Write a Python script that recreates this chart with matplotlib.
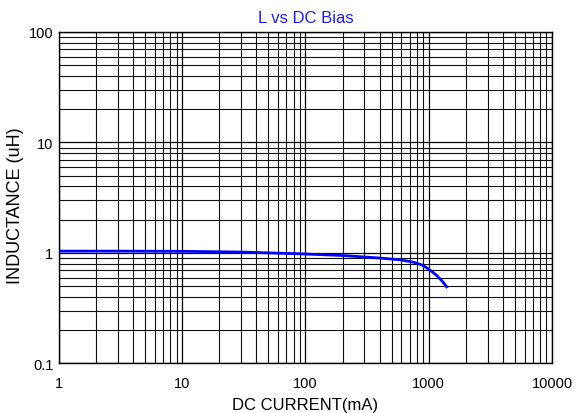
import matplotlib
matplotlib.use("Agg")
import matplotlib.pyplot as plt
from matplotlib.ticker import LogLocator, NullFormatter

plt.rcParams['font.family'] = ['Liberation Sans', 'DejaVu Sans']

current_ma = [1, 3, 10, 30, 90, 200, 400, 585, 750, 880, 962, 1060, 1159, 1280, 1400]
inductance_uh = [1.04, 1.04, 1.035, 1.02, 0.983, 0.949, 0.90, 0.868, 0.826, 0.78, 0.735, 0.68, 0.626, 0.56, 0.494]

x_ticks = [1, 10, 100, 1000, 10000]
x_labels = ["1", "10", "100", "1000", "10000"]
y_ticks = [0.1, 1, 10, 100]
y_labels = ["0.1", "1", "10", "100"]

fig = plt.figure(figsize=(5.76, 4.14), dpi=100)
ax = fig.add_axes([0.1024, 0.1196, 0.8559, 0.8007])
ax.set_xscale('log')
ax.set_yscale('log')
ax.set_xlim(1, 10000)
ax.set_ylim(0.1, 100)

ax.set_xticks(x_ticks)
ax.set_xticklabels(x_labels)
ax.set_yticks(y_ticks)
ax.set_yticklabels(y_labels)
ax.xaxis.set_minor_locator(LogLocator(base=10, subs=range(2, 10), numticks=20))
ax.yaxis.set_minor_locator(LogLocator(base=10, subs=range(2, 10), numticks=20))
ax.xaxis.set_minor_formatter(NullFormatter())
ax.yaxis.set_minor_formatter(NullFormatter())
ax.tick_params(which='both', length=0, labelsize=10.5)
ax.tick_params(axis='x', pad=9)
ax.tick_params(axis='y', pad=4)

ax.grid(True, which='major', color='black', linewidth=0.9)
ax.grid(True, which='minor', color='#111111', linewidth=0.8)
for s in ax.spines.values():
    s.set_color('black')
    s.set_linewidth(1.0)

ax.plot(current_ma, inductance_uh, color='#0000ff', linewidth=2, zorder=3)

ax.set_title("L vs DC Bias", color='#1a1aff', fontsize=12, pad=7)
ax.set_xlabel("DC CURRENT(mA)", fontsize=12, labelpad=5)
fig.text(16 / 576, 1 - 206 / 414, "INDUCTANCE (uH)", rotation=90,
         ha='center', va='center', fontsize=13)

fig.savefig("out.png", dpi=100)
